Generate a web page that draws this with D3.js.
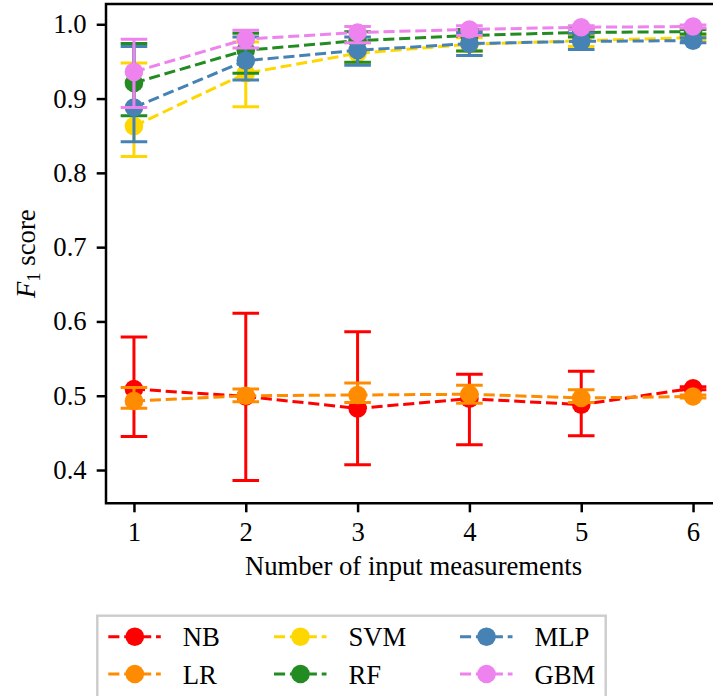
<!DOCTYPE html>
<html>
<head>
<meta charset="utf-8">
<script src="https://cdn.jsdelivr.net/npm/d3@7"></script>
<style>
  html, body { margin: 0; padding: 0; background: #fff; }
  svg, svg text { font-family: "Liberation Serif", "Times New Roman", serif !important; }
</style>
</head>
<body>
<svg id="chart" width="713" height="696"></svg>
<script>
// Number of input measurements (x positions)
const measurements = [1, 2, 3, 4, 5, 6];
const yTicks = [0.4, 0.5, 0.6, 0.7, 0.8, 0.9, 1.0];

// Mean F1 score and error-bar bounds per model
const nbMean = [0.509, 0.499, 0.483, 0.496, 0.488, 0.510];
const nbLow  = [0.445, 0.386, 0.407, 0.434, 0.446, 0.508];
const nbHigh = [0.579, 0.611, 0.586, 0.529, 0.533, 0.512];

const lrMean = [0.493, 0.500, 0.501, 0.502, 0.497, 0.499];
const lrLow  = [0.483, 0.492, 0.491, 0.490, 0.491, 0.497];
const lrHigh = [0.511, 0.509, 0.517, 0.514, 0.508, 0.501];

const svmMean = [0.863, 0.934, 0.961, 0.973, 0.978, 0.982];
const svmLow  = [0.822, 0.889, 0.948, 0.964, 0.970, 0.979];
const svmHigh = [0.948, 0.976, 0.975, 0.982, 0.985, 0.985];

const rfMean = [0.921, 0.965, 0.978, 0.985, 0.989, 0.990];
const rfLow  = [0.877, 0.934, 0.949, 0.964, 0.983, 0.987];
const rfHigh = [0.974, 0.988, 0.990, 0.993, 0.994, 0.993];

const mlpMean = [0.888, 0.951, 0.965, 0.974, 0.977, 0.978];
const mlpLow  = [0.842, 0.925, 0.945, 0.958, 0.966, 0.975];
const mlpHigh = [0.970, 0.983, 0.983, 0.989, 0.988, 0.982];

const gbmMean = [0.936, 0.980, 0.989, 0.993, 0.996, 0.997];
const gbmLow  = [0.888, 0.968, 0.975, 0.985, 0.993, 0.995];
const gbmHigh = [0.980, 0.992, 0.997, 0.998, 0.998, 0.999];

const modelNames  = ["NB", "LR", "SVM", "RF", "MLP", "GBM"];
const modelColors = ["#ff0000", "#ff8c00", "#ffd700", "#228b22", "#4682b4", "#ee82ee"];

const series = [
  { mean: nbMean,  low: nbLow,  high: nbHigh },
  { mean: lrMean,  low: lrLow,  high: lrHigh },
  { mean: svmMean, low: svmLow, high: svmHigh },
  { mean: rfMean,  low: rfLow,  high: rfHigh },
  { mean: mlpMean, low: mlpLow, high: mlpHigh },
  { mean: gbmMean, low: gbmLow, high: gbmHigh }
].map((s, i) => ({ ...s, name: modelNames[i], color: modelColors[i] }));

const SERIF = "'Liberation Serif', 'Times New Roman', serif";
const svg = d3.select("#chart");
const FS = 26.7;
const plot = { left: 106, right: 721, top: 4, bottom: 503.3 };

const x = d3.scaleLinear().domain([0.75, 6.25]).range([plot.left, plot.right]);
const y = d3.scaleLinear().domain([0.3552, 1.0273]).range([plot.bottom, plot.top]);

const dash = "11.1,4.8";
const lw = 3;
const markerR = 9.3;
const capHalf = 13.3;

// clip to the axes box
svg.append("defs").append("clipPath").attr("id", "clip")
  .append("rect").attr("x", plot.left).attr("y", plot.top)
  .attr("width", plot.right - plot.left).attr("height", plot.bottom - plot.top);

const g = svg.append("g").attr("clip-path", "url(#clip)");

const line = d3.line().x((d, i) => x(measurements[i])).y(d => y(d));

series.forEach(s => {
  const sg = g.append("g");
  sg.append("path")
    .attr("d", line(s.mean))
    .attr("fill", "none")
    .attr("stroke", s.color)
    .attr("stroke-width", lw)
    .attr("stroke-dasharray", dash);

  const pts = measurements.map((m, i) => ({ m, mean: s.mean[i], lo: s.low[i], hi: s.high[i] }));

  sg.selectAll(".bar").data(pts).join("line")
    .attr("x1", d => x(d.m)).attr("x2", d => x(d.m))
    .attr("y1", d => y(d.lo)).attr("y2", d => y(d.hi))
    .attr("stroke", s.color).attr("stroke-width", lw);

  ["lo", "hi"].forEach(k => {
    sg.selectAll(".cap-" + k).data(pts).join("line")
      .attr("x1", d => x(d.m) - capHalf).attr("x2", d => x(d.m) + capHalf)
      .attr("y1", d => y(d[k])).attr("y2", d => y(d[k]))
      .attr("stroke", s.color).attr("stroke-width", lw);
  });

  sg.selectAll("circle").data(pts).join("circle")
    .attr("cx", d => x(d.m)).attr("cy", d => y(d.mean))
    .attr("r", markerR).attr("fill", s.color);
});

// spines
const spine = svg.append("g").attr("stroke", "#000").attr("stroke-width", 2.5).attr("fill", "none");
spine.append("path")
  .attr("d", `M${plot.right},${plot.top}H${plot.left}V${plot.bottom}H${plot.right}`)
  .attr("stroke-linecap", "square");

// x axis
const xAxis = d3.axisBottom(x).tickValues(measurements).tickSize(9).tickPadding(10).tickFormat(d3.format("d"));
const xg = svg.append("g").attr("transform", `translate(0,${plot.bottom})`).call(xAxis)
  .attr("font-family", null).attr("font-size", null);
xg.select(".domain").remove();
xg.selectAll(".tick line").attr("stroke-width", 2.5);
xg.selectAll(".tick text").style("font-family", SERIF).style("font-size", FS + "px").attr("fill", "#000");

// y axis
const yAxis = d3.axisLeft(y).tickValues(yTicks).tickSize(9.3).tickPadding(10).tickFormat(d3.format(".1f"));
const yg = svg.append("g").attr("transform", `translate(${plot.left},0)`).call(yAxis)
  .attr("font-family", null).attr("font-size", null);
yg.select(".domain").remove();
yg.selectAll(".tick line").attr("stroke-width", 2.5);
yg.selectAll(".tick text").style("font-family", SERIF).style("font-size", FS + "px").attr("fill", "#000");

// axis titles
svg.append("text")
  .attr("x", (plot.left + plot.right) / 2).attr("y", 575)
  .attr("text-anchor", "middle")
  .style("font-family", SERIF).style("font-size", FS + "px")
  .text("Number of input measurements");

const yl = svg.append("text")
  .attr("transform", `translate(35,${(plot.top + plot.bottom) / 2}) rotate(-90)`)
  .attr("text-anchor", "middle")
  .style("font-family", SERIF).style("font-size", FS + "px");
yl.append("tspan").attr("font-style", "italic").text("F");
yl.append("tspan").style("font-size", (FS * 0.7) + "px").attr("dy", 5).text("1");
yl.append("tspan").attr("dy", -5).text(" score");

// legend
const legend = svg.append("g");
legend.append("rect")
  .attr("x", 97.3).attr("y", 615.7).attr("width", 508.4).attr("height", 120)
  .attr("fill", "#fff").attr("stroke", "#cccccc").attr("stroke-width", 2.4);

const colX = [108.3, 274, 460];
const rowY = [636.7, 674];
series.forEach((s, i) => {
  const cx = colX[Math.floor(i / 2)];
  const cy = rowY[i % 2];
  const item = legend.append("g");
  item.append("line")
    .attr("x1", cx).attr("x2", cx + 52.5).attr("y1", cy).attr("y2", cy)
    .attr("stroke", s.color).attr("stroke-width", lw).attr("stroke-dasharray", dash);
  item.append("circle").attr("cx", cx + 26.5).attr("cy", cy).attr("r", markerR).attr("fill", s.color);
  item.append("text").attr("x", cx + 74.5).attr("y", cy + 9.5)
    .style("font-family", SERIF).style("font-size", FS + "px")
    .text(s.name);
});
</script>
</body>
</html>
